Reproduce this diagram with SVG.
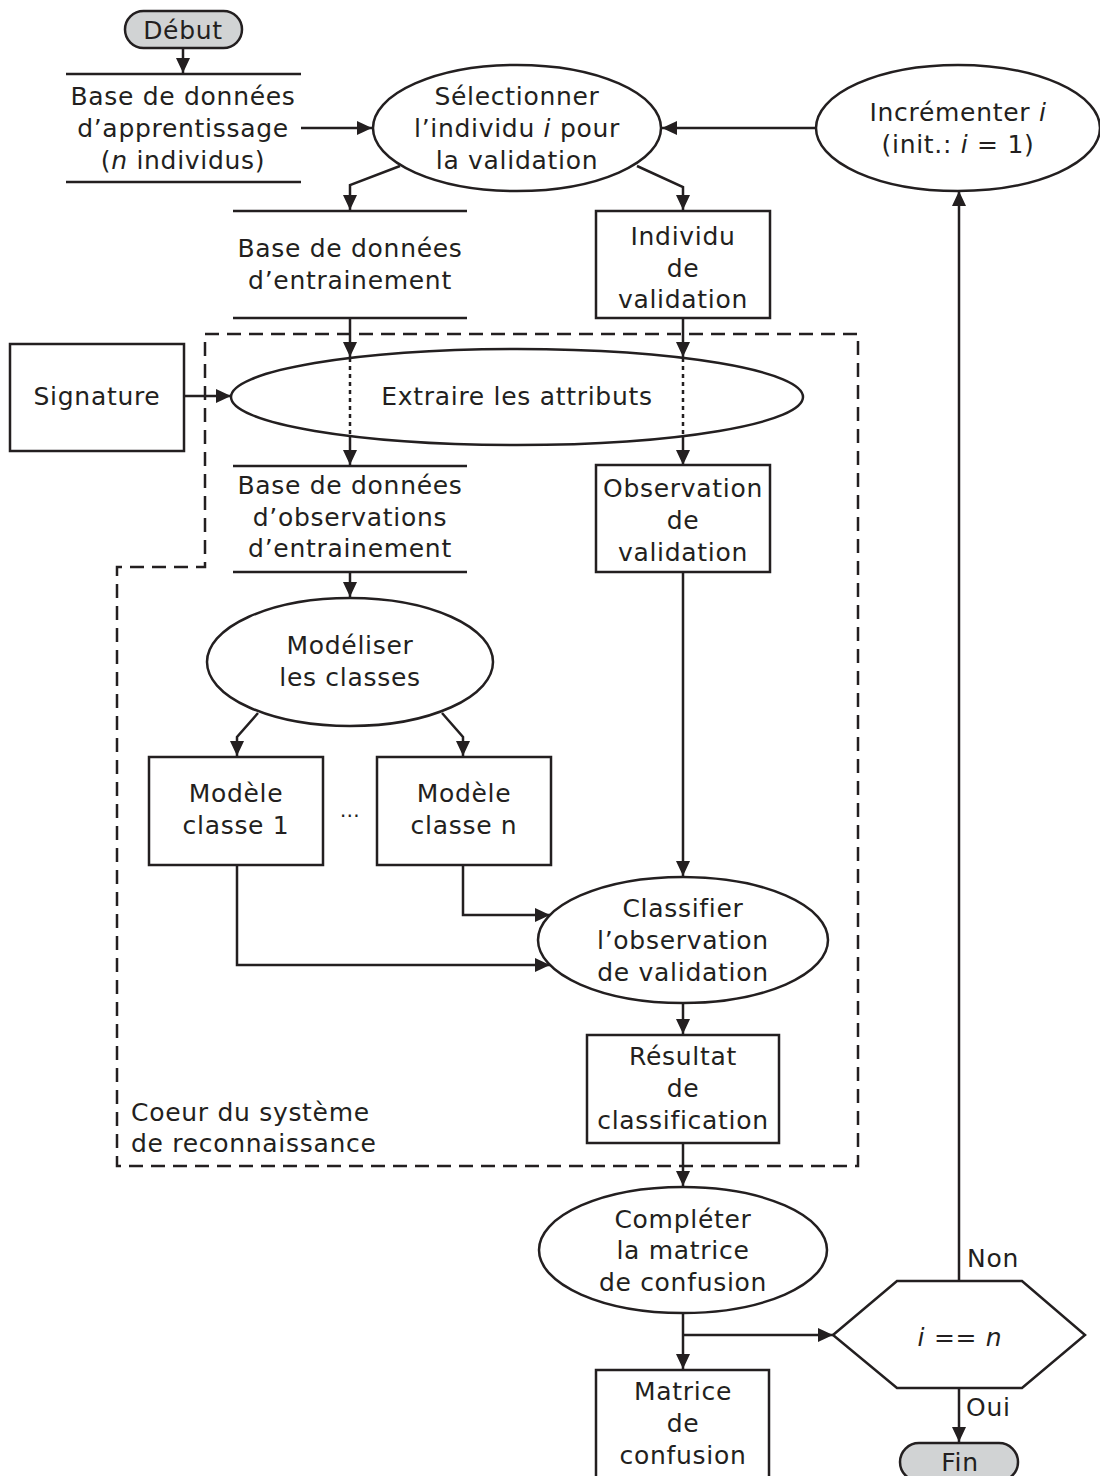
<svg xmlns="http://www.w3.org/2000/svg" width="1100" height="1476" viewBox="0 0 1100 1476">
  <defs>
    <marker id="arrow" markerUnits="userSpaceOnUse" markerWidth="16" markerHeight="16" refX="15" refY="7" orient="auto">
      <path d="M0,0 L15,7 L0,14 z" fill="#231f20"/>
    </marker>
    <style>
      .shape { fill: #ffffff; stroke: #231f20; stroke-width: 2.5; }
      .term { fill: #d1d3d4; stroke: #231f20; stroke-width: 2.5; }
      .store { stroke: #231f20; stroke-width: 2.5; fill: none; }
      .wire { fill: none; stroke: #231f20; stroke-width: 2.5; }
      .arr { marker-end: url(#arrow); }
      .dot { fill: none; stroke: #231f20; stroke-width: 2.5; stroke-dasharray: 4 4; }
      .zone { fill: none; stroke: #231f20; stroke-width: 2.5; stroke-dasharray: 14 8; }
      text { font-family: "DejaVu Sans", Verdana, sans-serif; font-size: 25px; fill: #231f20; letter-spacing: 0.7px; }
      .c { text-anchor: middle; }
      .it { font-style: italic; }
    </style>
  </defs>

  <rect width="1100" height="1476" fill="#ffffff"/>

  <!-- recognition core boundary -->
  <g id="core-zone">
    <polyline class="zone" points="205,334 858,334 858,1166 117,1166 117,567 205,567 205,334"/>
    <text x="131" y="1121">Coeur du système</text>
    <text x="131" y="1152">de reconnaissance</text>
  </g>

  <g id="connectors">
    <path class="wire arr" d="M183,48 V73"/>
    <path class="wire arr" d="M301,128 H372"/>
    <path class="wire arr" d="M815,128 H662"/>
    <path class="wire arr" d="M400,166 L350,185 V210"/>
    <path class="wire arr" d="M637,166 L683,187 V210"/>
    <path class="wire arr" d="M350,318 V357"/>
    <path class="dot" d="M350,358 V436"/>
    <path class="wire arr" d="M350,436 V465"/>
    <path class="wire arr" d="M683,318 V357"/>
    <path class="dot" d="M683,358 V436"/>
    <path class="wire arr" d="M683,436 V465"/>
    <path class="wire arr" d="M184,396 H231"/>
    <path class="wire arr" d="M350,572 V597"/>
    <path class="wire arr" d="M258,713 L237,737 V756"/>
    <path class="wire arr" d="M442,713 L463,737 V756"/>
    <path class="wire arr" d="M237,865 V965 H550"/>
    <path class="wire arr" d="M463,865 V915 H550"/>
    <path class="wire arr" d="M683,572 V876"/>
    <path class="wire arr" d="M683,1003 V1034"/>
    <path class="wire arr" d="M683,1143 V1186"/>
    <path class="wire arr" d="M683,1313 V1369"/>
    <path class="wire arr" d="M683,1335 H833"/>
    <path class="wire arr" d="M959,1281 V191"/>
    <path class="wire arr" d="M959,1388 V1442"/>
  </g>

  <g id="debut">
    <rect class="term" x="125" y="11" width="117" height="37" rx="18.5"/>
    <text class="c" x="183" y="39">Début</text>
  </g>

  <g id="bd-apprentissage">
    <line class="store" x1="66" y1="74" x2="301" y2="74"/>
    <line class="store" x1="66" y1="182" x2="301" y2="182"/>
    <text class="c" x="183" y="105">Base de données</text>
    <text class="c" x="183" y="137">d’apprentissage</text>
    <text class="c" x="183" y="169">(<tspan class="it">n</tspan> individus)</text>
  </g>

  <g id="selectionner">
    <ellipse class="shape" cx="517" cy="128" rx="144" ry="63"/>
    <text class="c" x="517" y="105">Sélectionner</text>
    <text class="c" x="517" y="137">l’individu <tspan class="it">i</tspan> pour</text>
    <text class="c" x="517" y="169">la validation</text>
  </g>

  <g id="incrementer">
    <ellipse class="shape" cx="958" cy="128" rx="142" ry="63"/>
    <text class="c" x="958" y="121">Incrémenter <tspan class="it">i</tspan></text>
    <text class="c" x="958" y="153">(init.: <tspan class="it">i</tspan> = 1)</text>
  </g>

  <g id="bd-entrainement">
    <line class="store" x1="233" y1="211" x2="467" y2="211"/>
    <line class="store" x1="233" y1="318" x2="467" y2="318"/>
    <text class="c" x="350" y="257">Base de données</text>
    <text class="c" x="350" y="289">d’entrainement</text>
  </g>

  <g id="individu-validation">
    <rect class="shape" x="596" y="211" width="174" height="107"/>
    <text class="c" x="683" y="245">Individu</text>
    <text class="c" x="683" y="277">de</text>
    <text class="c" x="683" y="308">validation</text>
  </g>

  <g id="signature">
    <rect class="shape" x="10" y="344" width="174" height="107"/>
    <text class="c" x="97" y="405">Signature</text>
  </g>

  <g id="extraire">
    <ellipse class="shape" cx="517" cy="397" rx="286" ry="48" fill-opacity="0"/>
    <text class="c" x="517" y="405">Extraire les attributs</text>
  </g>

  <g id="bd-observations">
    <line class="store" x1="233" y1="466" x2="467" y2="466"/>
    <line class="store" x1="233" y1="572" x2="467" y2="572"/>
    <text class="c" x="350" y="494">Base de données</text>
    <text class="c" x="350" y="526">d’observations</text>
    <text class="c" x="350" y="557">d’entrainement</text>
  </g>

  <g id="observation-validation">
    <rect class="shape" x="596" y="465" width="174" height="107"/>
    <text class="c" x="683" y="497">Observation</text>
    <text class="c" x="683" y="529">de</text>
    <text class="c" x="683" y="561">validation</text>
  </g>

  <g id="modeliser">
    <ellipse class="shape" cx="350" cy="662" rx="143" ry="64"/>
    <text class="c" x="350" y="654">Modéliser</text>
    <text class="c" x="350" y="686">les classes</text>
  </g>

  <g id="modele-1">
    <rect class="shape" x="149" y="757" width="174" height="108"/>
    <text class="c" x="236" y="802">Modèle</text>
    <text class="c" x="236" y="834">classe 1</text>
  </g>

  <g id="ellipsis">
    <text class="c" x="350" y="817" style="font-size:20px">…</text>
  </g>

  <g id="modele-n">
    <rect class="shape" x="377" y="757" width="174" height="108"/>
    <text class="c" x="464" y="802">Modèle</text>
    <text class="c" x="464" y="834">classe n</text>
  </g>

  <g id="classifier">
    <ellipse class="shape" cx="683" cy="940" rx="145" ry="63"/>
    <text class="c" x="683" y="917">Classifier</text>
    <text class="c" x="683" y="949">l’observation</text>
    <text class="c" x="683" y="981">de validation</text>
  </g>

  <g id="resultat">
    <rect class="shape" x="587" y="1035" width="192" height="108"/>
    <text class="c" x="683" y="1065">Résultat</text>
    <text class="c" x="683" y="1097">de</text>
    <text class="c" x="683" y="1129">classification</text>
  </g>

  <g id="completer">
    <ellipse class="shape" cx="683" cy="1250" rx="144" ry="63"/>
    <text class="c" x="683" y="1228">Compléter</text>
    <text class="c" x="683" y="1259">la matrice</text>
    <text class="c" x="683" y="1291">de confusion</text>
  </g>

  <g id="matrice">
    <rect class="shape" x="596" y="1370" width="173" height="120"/>
    <text class="c" x="683" y="1400">Matrice</text>
    <text class="c" x="683" y="1432">de</text>
    <text class="c" x="683" y="1464">confusion</text>
  </g>

  <g id="test-fin">
    <polygon class="shape" points="833,1335 897,1281 1022,1281 1085,1335 1022,1388 897,1388"/>
    <text class="c" x="960" y="1346"><tspan class="it">i</tspan> == <tspan class="it">n</tspan></text>
    <text x="967" y="1267">Non</text>
    <text x="966" y="1416">Oui</text>
  </g>

  <g id="fin">
    <rect class="term" x="900" y="1443" width="118" height="38" rx="19"/>
    <text class="c" x="960" y="1471">Fin</text>
  </g>
</svg>
